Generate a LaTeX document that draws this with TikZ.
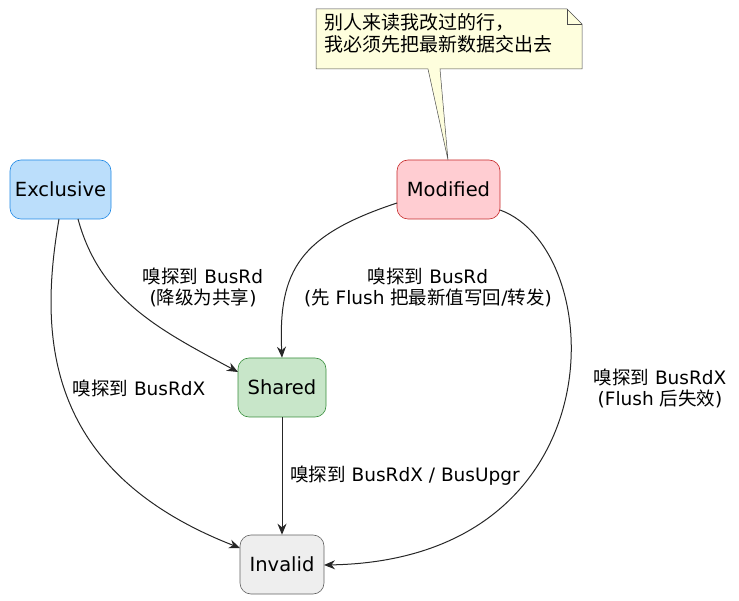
\documentclass[tikz,border=0pt]{standalone}
\usepackage{fontspec}
\setmainfont{DejaVu Sans}
\newfontfamily\cjk{Noto Sans CJK SC}
\newcommand{\zh}[1]{{\cjk #1}}
\usetikzlibrary{arrows.meta}
\definecolor{exf}{HTML}{BBDEFB}\definecolor{exd}{HTML}{1E88E5}
\definecolor{mof}{HTML}{FFCDD2}\definecolor{mod}{HTML}{C62828}
\definecolor{shf}{HTML}{C8E6C9}\definecolor{shd}{HTML}{388E3C}
\definecolor{inf}{HTML}{EEEEEE}\definecolor{ind}{HTML}{616161}
\definecolor{notef}{HTML}{FEFEDD}
\begin{document}
\begin{tikzpicture}[x=1pt,y=-1pt,
  st/.style={draw,rounded corners=11pt,minimum height=59pt,font=\fontsize{19.5}{22}\selectfont,inner sep=0pt,line width=0.6pt},
  lab/.style={font=\fontsize{18.5}{21}\selectfont,align=center,fill=white,inner sep=1pt},
  ar/.style={-{Stealth[length=11pt,width=9pt]},line width=1pt,draw=black!85}]
\useasboundingbox (0,0) rectangle (739,601);
\node[st,fill=exf,draw=exd,minimum width=101pt] (E) at (60.5,189.5) {Exclusive};
\node[st,fill=mof,draw=mod,minimum width=103pt] (M) at (448.5,189.5) {Modified};
\node[st,fill=shf,draw=shd,minimum width=88pt] (S) at (282,387.5) {Shared};
\node[st,fill=inf,draw=ind,minimum width=84pt] (I) at (282,564.5) {Invalid};
% note
\coordinate (np) at (448,160);
\draw[fill=notef,draw=black!70,line width=0.5pt] (316,9) -- (567,9) -- (582,24) -- (582,69) -- (440,69) -- (np) -- (428,69) -- (316,69) -- cycle;
\draw[draw=black!70,line width=0.5pt] (567,9) -- (567,24) -- (582,24);
\node[anchor=north west,align=left,font=\fontsize{19}{22}\selectfont\cjk,inner sep=0pt] (N) at (324,13) {别人来读我改过的行，\\我必须先把最新数据交出去};
% edges
\draw[ar] (59,219) .. controls (40,330) and (40,470) .. (240,548);
\draw[ar] (78,219) .. controls (100,300) and (160,330) .. (238,372);
\draw[ar] (397,203) .. controls (300,235) and (278,270) .. (S.north);
\draw[ar] (S.south) -- (I.north);
\draw[ar] (500,210) .. controls (610,250) and (620,560) .. (324,565);
\node[lab] at (139,388) {\zh{嗅探到} BusRdX};
\node[lab] at (203,287) {\zh{嗅探到} BusRd\\(\zh{降级为共享})};
\node[lab] at (428,287) {\zh{嗅探到} BusRd\\(\zh{先} Flush \zh{把最新值写回}/\zh{转发})};
\node[lab] at (405,476) {\zh{嗅探到} BusRdX / BusUpgr};
\node[lab] at (660,388) {\zh{嗅探到} BusRdX\\(Flush \zh{后失效})};
\end{tikzpicture}
\end{document}
